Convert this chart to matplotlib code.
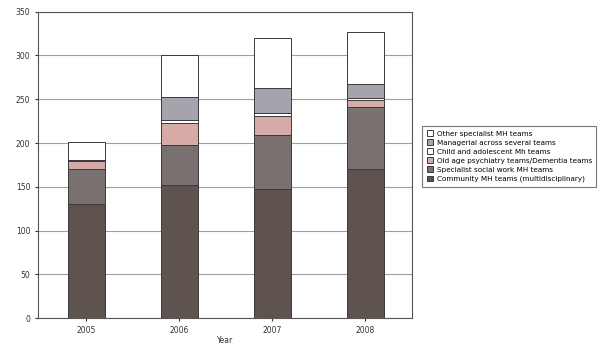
import numpy as np
import matplotlib.pyplot as plt

years = ['2005', '2006', '2007', '2008']
community = [130, 152, 148, 170]
specialist_sw = [40, 46, 61, 71]
old_age = [10, 25, 22, 8]
child = [0, 3, 3, 3]
managerial = [1, 27, 29, 16]
other = [20, 47, 57, 59]

series = [
    ('Community MH teams (multidisciplinary)', community, '#5f5350'),
    ('Specialist social work MH teams', specialist_sw, '#797070'),
    ('Old age psychiatry teams/Dementia teams', old_age, '#d6aaa7'),
    ('Child and adolescent Mh teams', child, '#ffffff'),
    ('Managerial across several teams', managerial, '#a6a3ad'),
    ('Other specialist MH teams', other, '#ffffff'),
]

fig = plt.figure(figsize=(6.13, 3.45), dpi=100)
ax = fig.add_axes([0.062, 0.078, 0.610, 0.888])

x = np.arange(len(years))
bottom = np.zeros(len(years))
handles = []
for label, vals, color in series:
    h = ax.bar(x, vals, width=0.4, bottom=bottom, color=color,
               edgecolor='#3a3a3a', linewidth=0.7, label=label, zorder=3)
    handles.append(h)
    bottom += np.array(vals)

ax.set_xlim(-0.52, 3.5)
ax.set_ylim(0, 350)
ax.set_yticks(range(0, 351, 50))
ax.set_xticks(x)
ax.set_xticklabels(years)
ax.yaxis.grid(True, color='#9aa0a6', linewidth=0.8, zorder=0)
ax.tick_params(axis='both', labelsize=5.5, length=2, colors='#333333')
ax.set_xlabel('Year', fontsize=5.5, labelpad=1, color='#333333')
for s in ax.spines.values():
    s.set_color('#555555')
    s.set_linewidth(0.8)

leg = fig.legend(handles[::-1], [s[0] for s in series][::-1],
                 loc='upper left', bbox_to_anchor=(0.683, 0.645),
                 fontsize=5.2, frameon=True, fancybox=False,
                 edgecolor='#555555', handlelength=0.9, handleheight=0.9,
                 labelspacing=0.35, borderpad=0.6, handletextpad=0.5)
leg.get_frame().set_linewidth(0.8)

fig.savefig('out.png', dpi=100)
